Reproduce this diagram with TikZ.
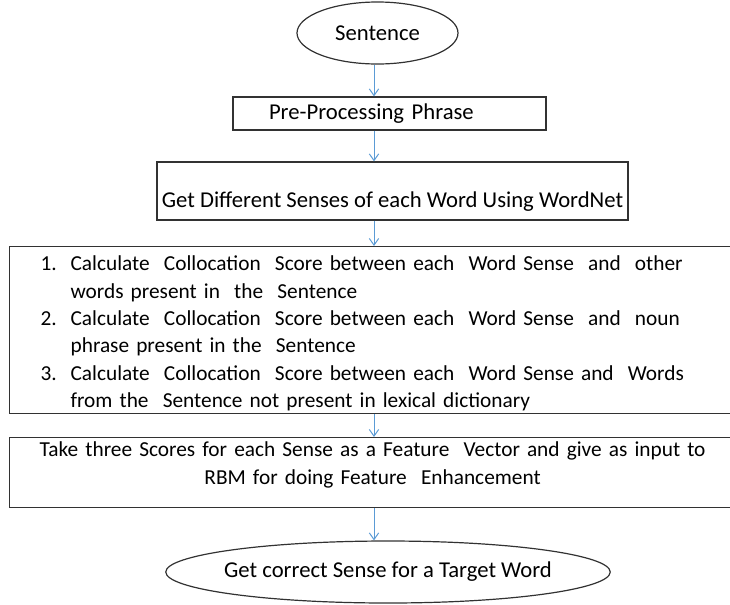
\documentclass[tikz,border=0pt]{standalone}
\usepackage{fontspec}
\setmainfont{Carlito}
\usetikzlibrary{arrows.meta,positioning,shapes.geometric}
\definecolor{ink}{RGB}{50,50,50}
\definecolor{link}{RGB}{91,155,213}
\tikzset{
  every picture/.style={line width=0.75pt},
  txt/.style={font=\fontsize{17}{20.5}\selectfont, text=black},
  box/.style={txt, draw=ink, line width=0.9pt, rectangle, inner sep=3pt},
  oval/.style={txt, draw=ink, line width=0.9pt, ellipse, inner sep=0pt, minimum height=46.5pt},
  wide/.style={box, anchor=north west, inner ysep=0pt, font=\fontsize{16}{20.5}\selectfont},
  flow/.style={-{Straight Barb[length=5pt,width=7pt]}, draw=link, line width=0.75pt},
}
\newcommand{\itemno}[1]{\leavevmode\llap{\makebox[22.5pt][l]{#1}}}

\begin{document}
\begin{tikzpicture}[x=0.75pt, y=-0.75pt]
  \useasboundingbox (0,0) rectangle (730,604);
  \coordinate (spine) at (374,0);

  \node[oval, minimum width=120.75pt] (sentence) at (377.5,33) {Sentence};
  \node[box, minimum width=234.75pt, minimum height=24.75pt, inner xsep=27pt, text width=180.75pt, align=left] (preproc) at (389.5,113.5) {Pre-Processing Phrase};
  \node[box, minimum width=353.25pt, minimum height=43.5pt, text height=27pt, text depth=3pt] (senses) at (392.5,191) {Get Different Senses of each Word Using WordNet};
  \node[wide, minimum height=125.25pt, inner xsep=45.75pt, text width=495pt, align=left, text height=16pt] (scores) at (9,246) {%
    \itemno{1.}Calculate~ Collocation~ Score between each~ Word Sense~ and~ other\\
    words present in~ the~ Sentence\\
    \itemno{2.}Calculate~ Collocation~ Score between each~ Word Sense~ and~ noun\\
    phrase present in the~ Sentence\\
    \itemno{3.}Calculate~ Collocation~ Score between each~ Word Sense and~ Words\\
    from the~ Sentence not present in lexical dictionary};
  \node[wide, minimum height=52.5pt, inner xsep=7.5pt, text width=529.5pt, align=center, text depth=35pt] (feature) at (9,437) {%
    Take three Scores for each Sense as a Feature~ Vector and give as input to\\
    RBM for doing Feature~ Enhancement};
  \node[oval, minimum width=333pt, inner xsep=-5pt] (target) at (388,572) {Get correct Sense for a Target Word};

  \draw[flow] (spine |- sentence.south) -- (spine |- preproc.north);
  \draw[flow] (spine |- preproc.south) -- (spine |- senses.north);
  \draw[flow] (spine |- senses.south) -- (spine |- scores.north);
  \draw[flow] (spine |- scores.south) -- (spine |- feature.north);
  \draw[flow] (spine |- feature.south) -- (spine |- target.north);
\end{tikzpicture}
\end{document}
